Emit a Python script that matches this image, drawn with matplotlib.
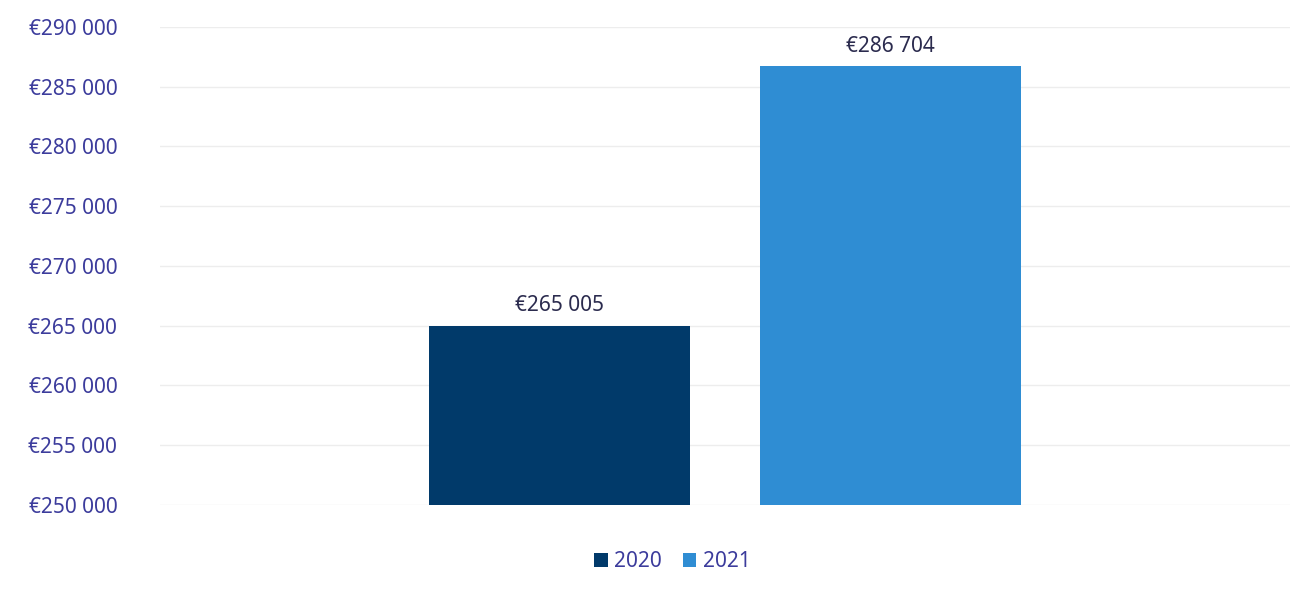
import matplotlib.pyplot as plt
from matplotlib.ticker import FuncFormatter

years = ['2020', '2021']
values = [265005, 286704]
colors = ['#013A6A', '#2F8DD3']
yticks = [250000, 255000, 260000, 265000, 270000, 275000, 280000, 285000, 290000]

plt.rcParams['font.family'] = ['Noto Sans', 'DejaVu Sans']

fig = plt.figure(figsize=(12.93, 5.99), dpi=100)
ax = fig.add_axes([0.124, 0.157, 0.874, 0.798])

def euro(v, pos=None):
    return '€' + format(int(v), ',').replace(',', ' ')

bars = ax.bar([0, 1], values, width=0.79, color=colors, label=years, zorder=2)
for b, v in zip(bars, values):
    ax.text(b.get_x() + b.get_width() / 2, v + 800, euro(v),
            ha='center', va='bottom', fontsize=15, color='#2B2B4E')

ax.set_ylim(250000, 290000)
ax.set_xlim(-1.205, 2.208)
ax.set_yticks(yticks)
ax.yaxis.set_major_formatter(FuncFormatter(euro))
ax.tick_params(axis='y', length=0, labelsize=15, labelcolor='#3C3C9C', pad=31)
ax.set_xticks([])
ax.grid(axis='y', color='#EDEDED', linewidth=1, zorder=0)
for s in ax.spines.values():
    s.set_visible(False)

leg = fig.legend(handles=bars, labels=years, loc='center', bbox_to_anchor=(0.52, 0.062),
                 ncol=2, frameon=False, fontsize=15, handlelength=0.65, handleheight=0.65,
                 handletextpad=0.3, columnspacing=1.0)
for t in leg.get_texts():
    t.set_color('#3C3C9C')

fig.savefig('out.png', dpi=100)
